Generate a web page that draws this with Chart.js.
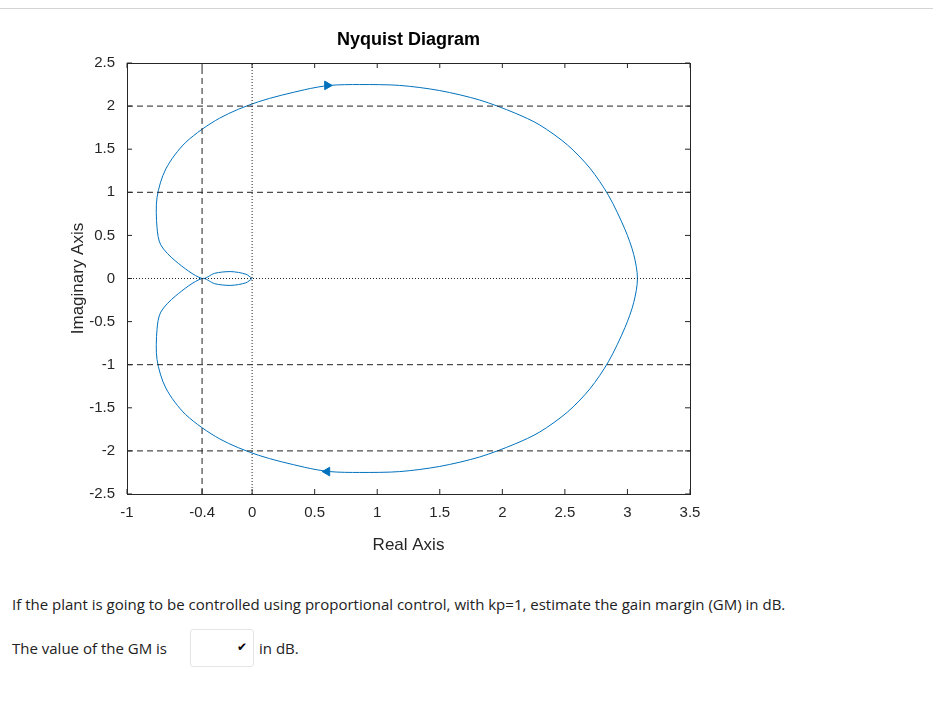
<!DOCTYPE html>
<html>
<head>
<meta charset="utf-8">
<script src="https://cdn.jsdelivr.net/npm/chart.js@4"></script>
<style>
  body { margin: 0; background: #fff; font-family: "Open Sans", sans-serif; }
  #wrap { position: absolute; left: 0; top: 0; width: 760px; height: 560px; }
  #title { position: absolute; left: 127px; width: 563px; top: 29px; text-align: center;
           font: bold 18px "Liberation Sans", Arial, sans-serif; color: #000; }
  #topline { position: absolute; left: 0; top: 8px; width: 933px; height: 1px; background: #d4d4d4; }
  .q { position: absolute; font-size: 15px; color: #222; white-space: nowrap; }
  #sel { position: absolute; left: 190px; top: 629px; width: 64px; height: 38px;
         border: 1px solid #e4e4e4; border-radius: 3px; box-sizing: border-box; }
  #sel span { position: absolute; right: 6px; top: 8px; font-size: 12px; }
</style>
</head>
<body>
<div id="topline"></div>
<div id="wrap"><canvas id="c"></canvas></div>
<div id="title">Nyquist Diagram</div>
<div class="q" style="left:12px; top:594px;">If the plant is going to be controlled using proportional control, with kp=1, estimate the gain margin (GM) in dB.</div>
<div class="q" style="left:12px; top:638px;">The value of the GM is</div>
<div id="sel"><span>&#10004;</span></div>
<div class="q" style="left:259px; top:638px;">in dB.</div>
<script>
const xTicks = [-1, -0.4, 0, 0.5, 1, 1.5, 2, 2.5, 3, 3.5];
const yTicks = [2.5, 2, 1.5, 1, 0.5, 0, -0.5, -1, -1.5, -2, -2.5];

// upper half of the Nyquist curve, from the origin out to the real-axis crossing
const upperX = [0, -0.05, -0.17, -0.3, -0.4, -0.61, -0.73, -0.76, -0.76, -0.69, -0.53, -0.26, 0.05, 0.42, 0.62, 0.86, 1.18, 1.5, 1.82, 2.1, 2.3, 2.52, 2.7, 2.85, 2.98, 3.05, 3.08];
const upperY = [0, 0.05, 0.08, 0.06, 0, 0.20, 0.39, 0.59, 0.94, 1.27, 1.58, 1.86, 2.05, 2.19, 2.24, 2.25, 2.24, 2.18, 2.07, 1.92, 1.78, 1.55, 1.28, 0.96, 0.57, 0.28, 0];

const dashV = [-0.4];
const dotV = [0];
const dashH = [2, 1, -1, -2];
const dotH = [0];

const curve = [];
for (let i = 0; i < upperX.length; i++) curve.push({x: upperX[i], y: upperY[i]});
for (let i = upperX.length - 2; i >= 0; i--) curve.push({x: upperX[i], y: -upperY[i]});

const blue = 'rgb(0,114,189)';
const refLine = (pts, dash) => ({
  data: pts, showLine: true, pointRadius: 0, borderColor: '#222', borderWidth: 1,
  borderDash: dash
});
const sets = [];
dashV.forEach(v => sets.push(refLine([{x: v, y: -2.5}, {x: v, y: 2.5}], [6, 4])));
dotV.forEach(v => sets.push(refLine([{x: v, y: -2.5}, {x: v, y: 2.5}], [1, 2])));
dashH.forEach(v => sets.push(refLine([{x: -1, y: v}, {x: 3.5, y: v}], [6, 4])));
dotH.forEach(v => sets.push(refLine([{x: -1, y: v}, {x: 3.5, y: v}], [1, 2])));
sets.push({data: curve, showLine: true, pointRadius: 0, borderColor: blue, borderWidth: 1, tension: 0.3});
sets.push({data: [{x: 0.6, y: 2.24}], pointStyle: 'triangle', rotation: 90, pointRadius: 5, backgroundColor: blue, borderColor: blue});
sets.push({data: [{x: 0.6, y: -2.24}], pointStyle: 'triangle', rotation: -90, pointRadius: 5, backgroundColor: blue, borderColor: blue});
sets.push({data: [{x: -1, y: 0}], pointStyle: 'cross', pointRadius: 5, borderColor: 'red', borderWidth: 1});

const boxPlugin = {
  id: 'box',
  afterDraw(chart) {
    const a = chart.chartArea, ctx = chart.ctx;
    ctx.save();
    ctx.strokeStyle = '#262626';
    ctx.lineWidth = 1;
    ctx.strokeRect(a.left + 0.5, a.top + 0.5, a.right - a.left, a.bottom - a.top);
    ctx.beginPath();
    const xs = chart.scales.x, ys = chart.scales.y;
    xTicks.forEach(v => { const p = xs.getPixelForValue(v);
      ctx.moveTo(p, a.bottom); ctx.lineTo(p, a.bottom - 5); ctx.moveTo(p, a.top); ctx.lineTo(p, a.top + 5); });
    yTicks.forEach(v => { const p = ys.getPixelForValue(v);
      ctx.moveTo(a.left, p); ctx.lineTo(a.left + 5, p); ctx.moveTo(a.right, p); ctx.lineTo(a.right - 5, p); });
    ctx.stroke();
    ctx.restore();
  }
};

const tickFont = {family: '"Liberation Sans", Arial, sans-serif', size: 15};
new Chart(document.getElementById('c'), {
  type: 'scatter',
  data: {datasets: sets},
  options: {
    responsive: true, maintainAspectRatio: false, animation: false,
    layout: {padding: {top: 63, right: 70, left: 64, bottom: 0}},
    plugins: {legend: {display: false}, tooltip: {enabled: false}},
    scales: {
      x: {
        type: 'linear', min: -1, max: 3.5,
        afterBuildTicks: s => { s.ticks = xTicks.map(v => ({value: v})); },
        afterFit: s => { s.height = 66; },
        grid: {display: false},
        border: {display: false},
        ticks: {color: '#262626', font: tickFont, padding: 2, callback: v => String(v)},
        title: {display: true, text: 'Real Axis', color: '#262626', font: {family: tickFont.family, size: 17}, padding: {top: 0}}
      },
      y: {
        type: 'linear', min: -2.5, max: 2.5,
        afterBuildTicks: s => { s.ticks = yTicks.map(v => ({value: v})); },
        afterFit: s => { s.width = 63; },
        grid: {display: false},
        border: {display: false},
        ticks: {color: '#262626', font: tickFont, padding: 4, callback: v => String(v)},
        title: {display: true, text: 'Imaginary Axis', color: '#262626', font: {family: tickFont.family, size: 17}, padding: {bottom: 0}}
      }
    }
  },
  plugins: [boxPlugin]
});
</script>
</body>
</html>
